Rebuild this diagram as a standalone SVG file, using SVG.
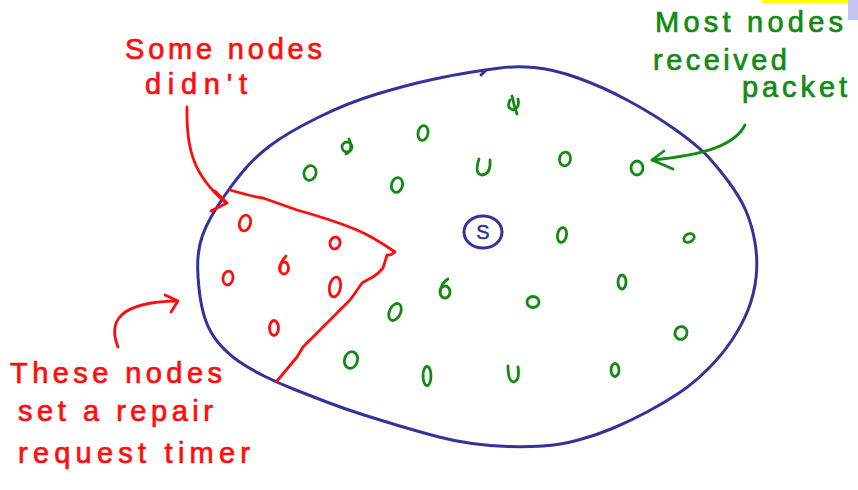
<svg xmlns="http://www.w3.org/2000/svg" width="858" height="490" viewBox="0 0 858 490">
<style>
.blue{fill:none;stroke:#333399;stroke-width:3;stroke-linecap:round;stroke-linejoin:round}
.g{fill:none;stroke:#138a13;stroke-width:2.8;stroke-linecap:round;stroke-linejoin:round}
.r{fill:none;stroke:#ff0d0d;stroke-width:2.8;stroke-linecap:round;stroke-linejoin:round}
.tr{font-family:"Liberation Sans",Arial,sans-serif;font-size:29px;fill:#ff0d0d;stroke:#ff0d0d;stroke-width:0.7}
.tg{font-family:"Liberation Sans",Arial,sans-serif;font-size:29px;fill:#138a13;stroke:#138a13;stroke-width:0.7}
</style>
<rect width="858" height="490" fill="#ffffff"/>
<rect x="762" y="0" width="86" height="3" fill="#ffff00"/>
<rect x="848" y="0" width="10" height="20" fill="#c4c4ee"/>

<g id="region">
<path class="blue" d="M 198,257.5 Q 199,245 202.5,235.5 Q 206,226 210.5,218 Q 215,210 220,202.5 Q 225,195 230,188 Q 235,181 245,169 Q 255,157 271,145 Q 287,133 317,118 Q 347,103 377,94 Q 407,85 430,80 Q 453,75 469,72.5 Q 485,70 500,68 Q 515,66 534,67.5 Q 553,69 578,78 Q 603,87 628,100.5 Q 653,114 673,128 Q 693,142 705,153.5 Q 716,165 728,181 Q 740,197 746,211 Q 752,225 755,242.5 Q 758,260 756,278 Q 754,295 748,310 Q 742,325 732,340 Q 722,355 708,369 Q 694,383 679,393 Q 664,403 647,412 Q 630,421 613.5,428 Q 597,435 578.5,440 Q 560,445 543,446 Q 526,447 508,446.5 Q 490,446 472,443.5 Q 454,441 437,436.5 Q 420,432 401.5,426.5 Q 383,421 364,415 Q 345,409 328,402.5 Q 311,396 294.5,389.5 Q 278,383 264,376 Q 250,369 239,361.5 Q 228,354 219,343.5 Q 210,333 205.5,320 Q 201,307 199,288.5 Q 197,270 198,257.5 Z"/>
<path class="blue" d="M481,75 L486,70"/>
</g>

<g id="missed-area">
<path class="r" d="M230,190 Q250,196 263,198 Q280,204 297,210 Q315,215 330,220 Q345,225 357,230 Q366,234 373,238 Q385,245 395,252 Q390,256 387,255 Q385,262 383,268 Q378,274 373,277 Q367,280 362,283 Q356,292 350,300 Q342,308 333,317 Q318,332 303,347 Q300,352 297,357 Q287,369 277,381"/>
</g>

<g id="source">
<ellipse class="blue" cx="483" cy="232" rx="19" ry="16" stroke-width="2.6"/>
<text x="483" y="239" text-anchor="middle" font-family="Liberation Sans,Arial,sans-serif" font-size="20" fill="#333399" stroke="#333399" stroke-width="0.5">S</text>
</g>

<g id="received-nodes">
<g id="g1"><path class="g" d="M510,100 Q506,108 513,110 Q520,108 518,99 M512,96 Q514,106 517,114"/></g>
<g id="g2"><ellipse class="g" cx="423" cy="133" rx="5" ry="7.5" transform="rotate(10 423 133)"/></g>
<g id="g3"><ellipse class="g" cx="347" cy="147" rx="5" ry="5"/><path class="g" d="M349,139 Q354,150 346,154"/></g>
<g id="g4"><ellipse class="g" cx="310" cy="173" rx="6" ry="7.5" transform="rotate(15 310 173)"/></g>
<g id="g5"><ellipse class="g" cx="397" cy="185" rx="5.5" ry="7.5" transform="rotate(15 397 185)"/></g>
<g id="g6"><path class="g" d="M479,159 Q474,174 482,175 Q491,174 490,160"/></g>
<g id="g7"><ellipse class="g" cx="565" cy="159" rx="5.5" ry="7" transform="rotate(10 565 159)"/></g>
<g id="g8"><ellipse class="g" cx="637" cy="168" rx="6" ry="7"/></g>
<g id="g9"><ellipse class="g" cx="562" cy="235" rx="4.5" ry="7.5" transform="rotate(10 562 235)"/></g>
<g id="g10"><ellipse class="g" cx="689" cy="238" rx="5.5" ry="4" transform="rotate(-30 689 238)"/></g>
<g id="g11"><ellipse class="g" cx="445" cy="292" rx="5" ry="6"/><path class="g" d="M448,279 Q441,283 440,292"/></g>
<g id="g12"><ellipse class="g" cx="622" cy="282" rx="4" ry="7"/></g>
<g id="g13"><ellipse class="g" cx="395" cy="312" rx="5.5" ry="9" transform="rotate(25 395 312)"/></g>
<g id="g14"><ellipse class="g" cx="533" cy="302" rx="6" ry="5.5"/></g>
<g id="g15"><ellipse class="g" cx="681" cy="333" rx="6" ry="6.5" transform="rotate(20 681 333)"/></g>
<g id="g16"><ellipse class="g" cx="351" cy="360" rx="6.5" ry="8.5" transform="rotate(15 351 360)"/></g>
<g id="g17"><ellipse class="g" cx="427" cy="376" rx="4" ry="9.5"/></g>
<g id="g18"><path class="g" d="M508,366 Q508,382 514,382 Q520,380 518,367"/></g>
<g id="g19"><ellipse class="g" cx="615" cy="370" rx="4" ry="6.5"/></g>
</g>

<g id="missed-nodes">
<g id="r1"><ellipse class="r" cx="245" cy="223" rx="5.5" ry="8" transform="rotate(15 245 223)"/></g>
<g id="r2"><ellipse class="r" cx="335" cy="243" rx="5" ry="6" transform="rotate(15 335 243)"/></g>
<g id="r3"><ellipse class="r" cx="284" cy="268" rx="4.5" ry="6"/><path class="r" d="M286,256 Q280,262 280,270"/></g>
<g id="r4"><ellipse class="r" cx="228" cy="278" rx="5" ry="7" transform="rotate(10 228 278)"/></g>
<g id="r5"><ellipse class="r" cx="335" cy="287" rx="5.5" ry="10" transform="rotate(10 335 287)"/></g>
<g id="r6"><ellipse class="r" cx="274" cy="328" rx="4.5" ry="7.5"/></g>
</g>

<g id="connectors">
<path class="r" d="M187,107 C186,150 194,176 226,203"/>
<path class="r" d="M215,191 L227,203 L211,211"/>
<path class="r" d="M118,347 C108,322 118,302 177,301"/>
<path class="r" d="M165,295 L178,301 L171,312"/>
<path class="g" d="M745,125 C735,145 705,155 652,160"/>
<path class="g" d="M664,151 L652,160 L673,169"/>
</g>

<g id="labels">
<text class="tr" x="125" y="59" textLength="197" lengthAdjust="spacing">Some nodes</text>
<text class="tr" x="145" y="94" textLength="102" lengthAdjust="spacing">didn't</text>
<text class="tg" x="655" y="32" textLength="188" lengthAdjust="spacing">Most nodes</text>
<text class="tg" x="653" y="70" textLength="134" lengthAdjust="spacing">received</text>
<text class="tg" x="742" y="97" textLength="105" lengthAdjust="spacing">packet</text>
<text class="tr" x="10" y="383" textLength="212" lengthAdjust="spacing">These nodes</text>
<text class="tr" x="18" y="421" textLength="195" lengthAdjust="spacing">set a repair</text>
<text class="tr" x="18" y="463" textLength="232" lengthAdjust="spacing">request timer</text>
</g>
</svg>
